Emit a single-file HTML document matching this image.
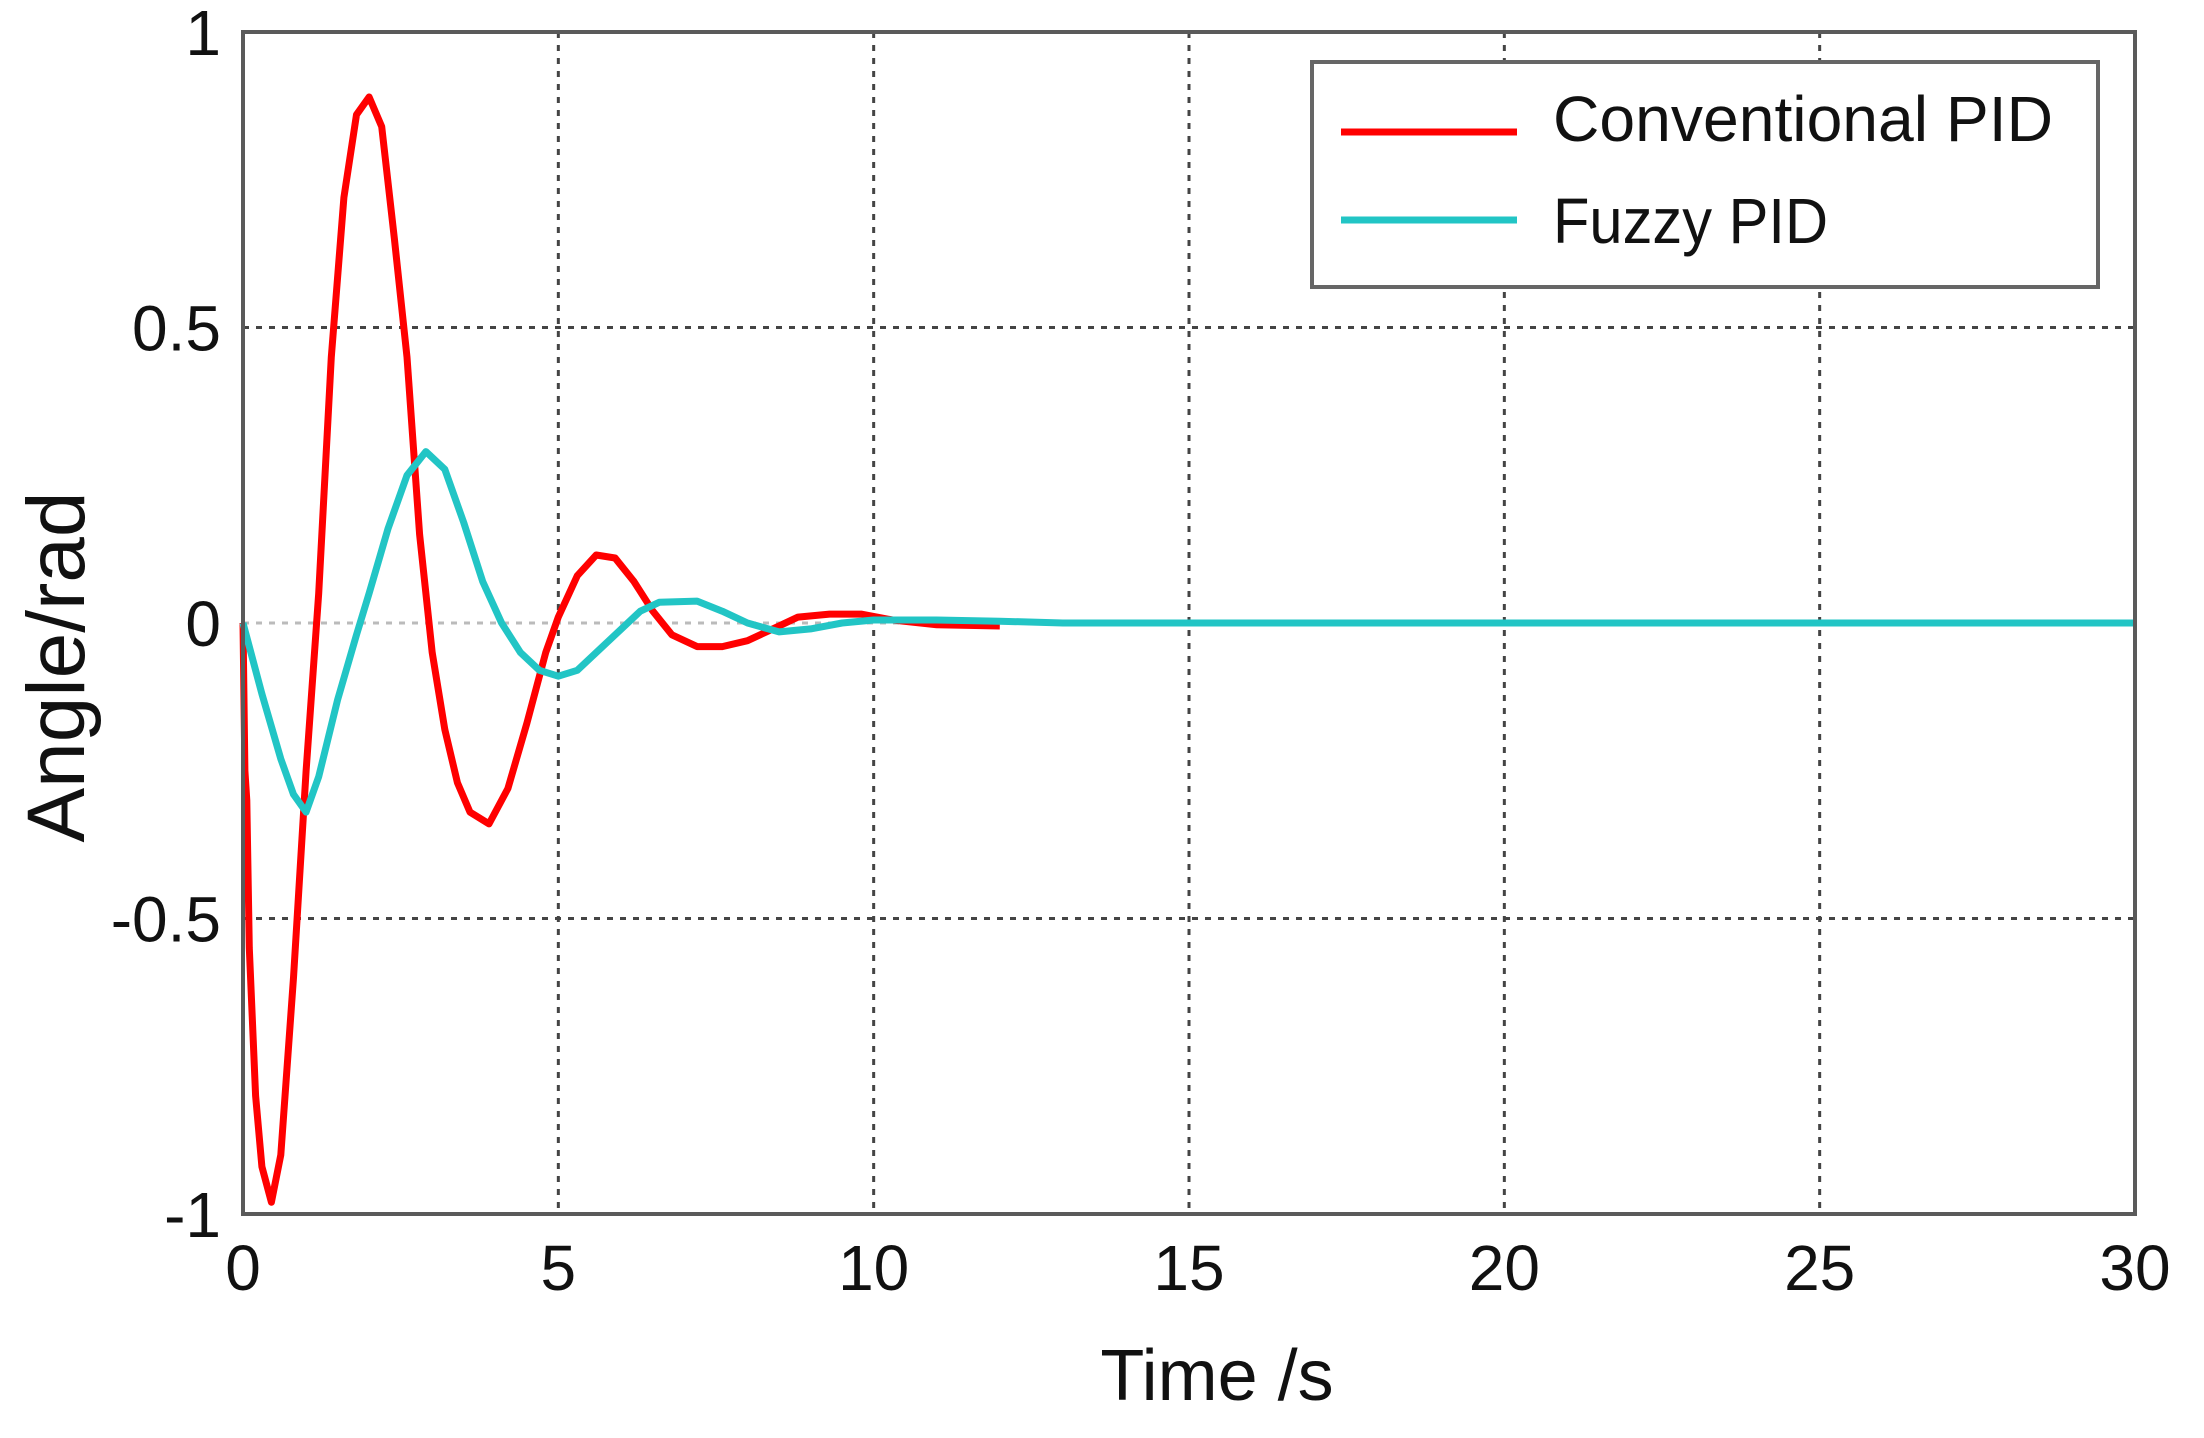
<!DOCTYPE html>
<html><head><meta charset="utf-8"><style>
html,body{margin:0;padding:0;background:#fff;}
svg{display:block;}
text{font-family:"Liberation Sans",sans-serif;fill:#111;}
</style></head><body>
<svg id="chart" width="2204" height="1438" viewBox="0 0 2204 1438" xmlns="http://www.w3.org/2000/svg">
<g id="grid"></g>
<g id="series"></g>
<rect x="243" y="32" width="1892" height="1182" fill="none" stroke="#5a5a5a" stroke-width="4"/>
<g id="ticks"></g>
<g>
<rect x="1312" y="62" width="786" height="225" fill="#fff" stroke="#666" stroke-width="4"/>
<line x1="1341" y1="132" x2="1517" y2="132" stroke="#ff0000" stroke-width="7"/>
<text x="1553" y="141" font-size="64" textLength="500" lengthAdjust="spacingAndGlyphs">Conventional PID</text>
<line x1="1341" y1="220" x2="1517" y2="220" stroke="#22c5c5" stroke-width="7"/>
<text x="1553" y="243" font-size="64" textLength="275" lengthAdjust="spacingAndGlyphs">Fuzzy PID</text>
</g>
<text x="1217" y="1400" font-size="72" text-anchor="middle">Time /s</text>
<text transform="translate(84,667) rotate(-90)" font-size="82" text-anchor="middle">Angle/rad</text>
</svg>
<script>
const xTicks=[0,5,10,15,20,25,30];
const yTicks=[-1,-0.5,0,0.5,1];
const yTickLabels=["-1","-0.5","0","0.5","1"];
const convT=[0,0.03,0.06,0.1,0.2,0.3,0.45,0.6,0.8,1.0,1.2,1.4,1.6,1.8,2.0,2.2,2.4,2.6,2.8,3.0,3.2,3.4,3.6,3.9,4.2,4.5,4.8,5.0,5.3,5.6,5.9,6.2,6.5,6.8,7.2,7.6,8.0,8.4,8.8,9.3,9.8,10.3,11,12];
const convV=[0,-0.25,-0.3,-0.55,-0.8,-0.92,-0.98,-0.9,-0.6,-0.25,0.05,0.45,0.72,0.86,0.89,0.84,0.65,0.45,0.15,-0.05,-0.18,-0.27,-0.32,-0.34,-0.28,-0.17,-0.05,0.01,0.08,0.115,0.11,0.07,0.02,-0.02,-0.04,-0.04,-0.03,-0.01,0.01,0.015,0.015,0.005,-0.003,-0.005];
const fuzzyT=[0,0.3,0.6,0.8,1.0,1.2,1.5,1.8,2.0,2.3,2.6,2.9,3.2,3.5,3.8,4.1,4.4,4.7,5.0,5.3,5.6,6.0,6.3,6.6,7.2,7.6,8.0,8.5,9.0,9.5,10,11,12,13,30];
const fuzzyV=[0,-0.12,-0.23,-0.29,-0.32,-0.26,-0.13,-0.02,0.05,0.16,0.25,0.29,0.26,0.17,0.07,0.0,-0.05,-0.08,-0.09,-0.08,-0.05,-0.01,0.02,0.035,0.037,0.02,0.0,-0.015,-0.01,0.0,0.005,0.005,0.003,0,0];

const NS="http://www.w3.org/2000/svg";
const L=243,R=2135,T=32,B=1214;
function X(t){return L+(t-0)/(30-0)*(R-L);}
function Y(v){return B-(v+1)/2*(B-T);}
const grid=document.getElementById('grid'),ticks=document.getElementById('ticks'),ser=document.getElementById('series');
xTicks.forEach(t=>{
  if(t>0&&t<30){
    const g=document.createElementNS(NS,'line');
    
    
    g.setAttribute('x1',X(t));g.setAttribute('x2',X(t));g.setAttribute('y1',T);g.setAttribute('y2',B);
    g.setAttribute('stroke','#444');g.setAttribute('stroke-width','3');g.setAttribute('stroke-dasharray','6 7');
    grid.appendChild(g);
  }
  const tx=document.createElementNS(NS,'text');
  
  
  tx.setAttribute('x',X(t));tx.setAttribute('y',1290);tx.setAttribute('font-size','64');tx.setAttribute('text-anchor','middle');
  tx.textContent=String(t);ticks.appendChild(tx);
});
yTicks.forEach((v,i)=>{
  if(v>-1&&v<1){
    const g=document.createElementNS(NS,'line');
    
    
    g.setAttribute('x1',L);g.setAttribute('x2',R);g.setAttribute('y1',Y(v));g.setAttribute('y2',Y(v));
    g.setAttribute('stroke',v===0?'#bbb':'#444');g.setAttribute('stroke-width','3');g.setAttribute('stroke-dasharray','6 7');
    grid.appendChild(g);
  }
  const tx=document.createElementNS(NS,'text');
  
  
  tx.setAttribute('x',221);tx.setAttribute('y',Y(v)+23);tx.setAttribute('font-size','64');tx.setAttribute('text-anchor','end');
  tx.textContent=yTickLabels[i];ticks.appendChild(tx);
});
function drawLine(ts,vs,color,name){
  const p=document.createElementNS(NS,'polyline');
  
  
  p.setAttribute('points',ts.map((t,i)=>X(t).toFixed(1)+','+Y(vs[i]).toFixed(1)).join(' '));
  p.setAttribute('fill','none');p.setAttribute('stroke',color);p.setAttribute('stroke-width','7');p.setAttribute('stroke-linejoin','round');
  ser.appendChild(p);
}
drawLine(convT,convV,'#ff0000','conventional-pid-line');
drawLine(fuzzyT,fuzzyV,'#22c5c5','fuzzy-pid-line');
</script>
</body></html>
